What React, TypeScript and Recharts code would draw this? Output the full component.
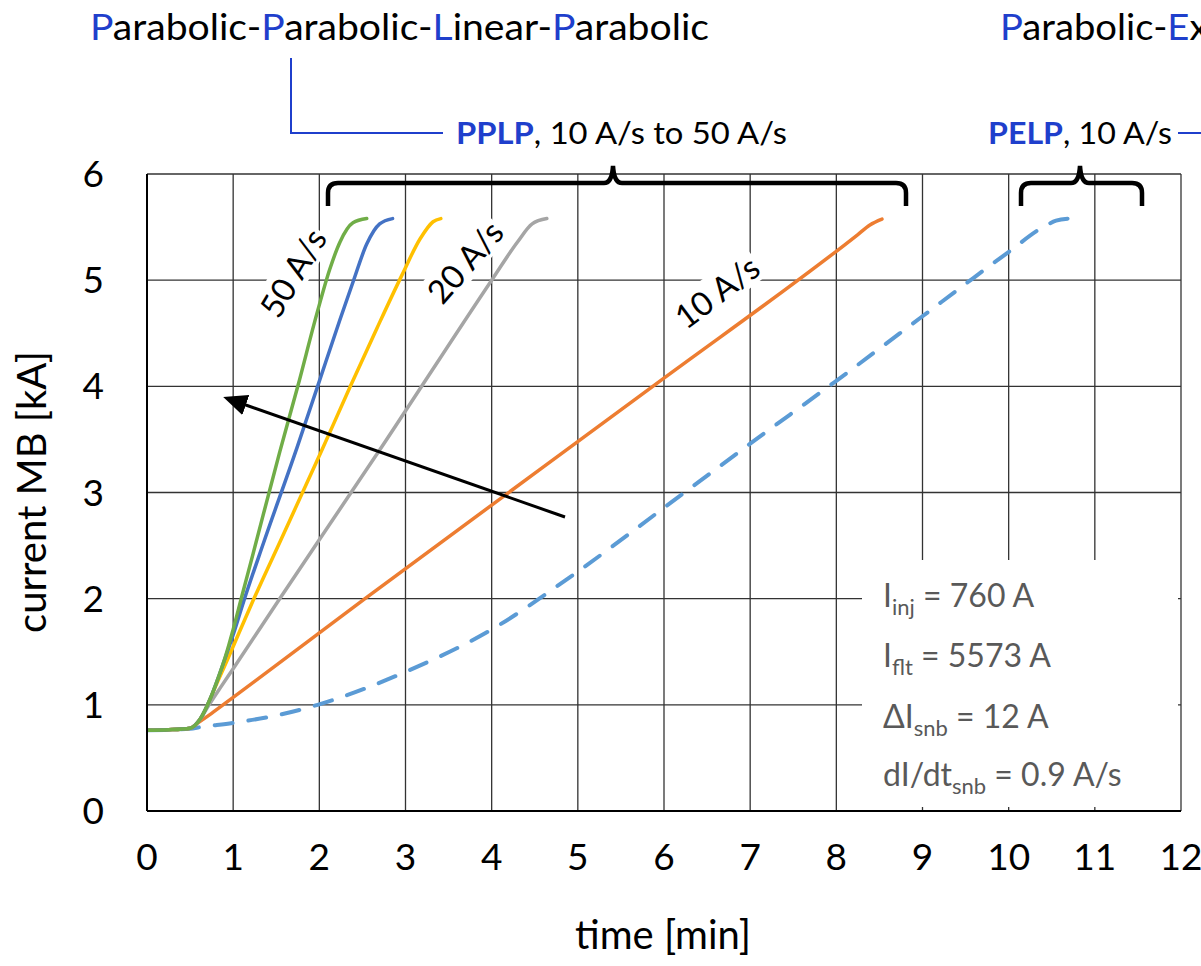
import { LineChart, Line, XAxis, YAxis, CartesianGrid } from 'recharts'

// time [min], current [kA]
const xTicks = [0, 1, 2, 3, 4, 5, 6, 7, 8, 9, 10, 11, 12]
const yTicks = [0, 1, 2, 3, 4, 5, 6]

const pplp50 = [
  { t: 0, I: 0.76 }, { t: 0.25, I: 0.765 }, { t: 0.5, I: 0.78 }, { t: 0.62, I: 0.87 },
  { t: 0.73, I: 1.05 }, { t: 0.82, I: 1.24 }, { t: 0.92, I: 1.48 }, { t: 1.0, I: 1.71 },
  { t: 1.1, I: 2.02 }, { t: 1.23, I: 2.42 }, { t: 1.54, I: 3.38 }, { t: 1.75, I: 4.0 },
  { t: 1.97, I: 4.68 }, { t: 2.12, I: 5.1 }, { t: 2.24, I: 5.36 }, { t: 2.39, I: 5.54 },
  { t: 2.55, I: 5.58 },
]
const pplp40 = [
  { t: 0, I: 0.76 }, { t: 0.25, I: 0.765 }, { t: 0.5, I: 0.78 }, { t: 0.62, I: 0.87 },
  { t: 0.73, I: 1.05 }, { t: 0.82, I: 1.24 }, { t: 0.92, I: 1.47 }, { t: 1.0, I: 1.66 },
  { t: 1.12, I: 1.97 }, { t: 1.35, I: 2.52 }, { t: 1.74, I: 3.42 }, { t: 1.98, I: 4.0 },
  { t: 2.24, I: 4.63 }, { t: 2.39, I: 4.98 }, { t: 2.55, I: 5.34 }, { t: 2.7, I: 5.53 },
  { t: 2.85, I: 5.58 },
]
const pplp30 = [
  { t: 0, I: 0.76 }, { t: 0.25, I: 0.765 }, { t: 0.5, I: 0.78 }, { t: 0.62, I: 0.87 },
  { t: 0.73, I: 1.05 }, { t: 0.82, I: 1.22 }, { t: 0.92, I: 1.4 }, { t: 1.0, I: 1.55 },
  { t: 1.23, I: 1.98 }, { t: 1.54, I: 2.53 }, { t: 2.03, I: 3.4 }, { t: 2.36, I: 4.0 },
  { t: 2.67, I: 4.55 }, { t: 2.96, I: 5.05 }, { t: 3.17, I: 5.39 }, { t: 3.32, I: 5.55 },
  { t: 3.41, I: 5.58 },
]
const pplp20 = [
  { t: 0, I: 0.76 }, { t: 0.25, I: 0.765 }, { t: 0.5, I: 0.78 }, { t: 0.62, I: 0.87 },
  { t: 0.72, I: 1.0 }, { t: 0.85, I: 1.16 }, { t: 1.0, I: 1.34 }, { t: 1.54, I: 2.0 },
  { t: 2.7, I: 3.4 }, { t: 4.0, I: 5.0 }, { t: 4.3, I: 5.36 }, { t: 4.47, I: 5.53 },
  { t: 4.64, I: 5.58 },
]
const pplp10 = [
  { t: 0, I: 0.76 }, { t: 0.25, I: 0.765 }, { t: 0.5, I: 0.78 }, { t: 0.6, I: 0.835 },
  { t: 0.75, I: 0.92 }, { t: 1.0, I: 1.07 }, { t: 2.53, I: 2.0 }, { t: 5.87, I: 4.0 },
  { t: 8.25, I: 5.43 }, { t: 8.39, I: 5.52 }, { t: 8.53, I: 5.575 },
]
const pelp10 = [
  { t: 0, I: 0.76 }, { t: 0.5, I: 0.775 }, { t: 0.62, I: 0.79 }, { t: 1.0, I: 0.83 },
  { t: 1.5, I: 0.9 }, { t: 1.98, I: 1.0 }, { t: 2.97, I: 1.3 }, { t: 3.98, I: 1.7 },
  { t: 4.99, I: 2.25 }, { t: 5.99, I: 2.85 }, { t: 7.0, I: 3.46 }, { t: 7.98, I: 4.04 },
  { t: 9.0, I: 4.66 }, { t: 9.59, I: 5.02 }, { t: 9.99, I: 5.26 }, { t: 10.4, I: 5.5 },
  { t: 10.55, I: 5.56 }, { t: 10.7, I: 5.58 },
]

const font = 'Lato, "Open Sans", sans-serif'
const blue = '#1f3fcc'
const grey = '#595959'

function Overlay() {
  return (
    <svg width={1201} height={966} style={{ position: 'absolute', left: 0, top: 0, pointerEvents: 'none' }} fontFamily={font}>
      <defs>
        <marker id="arrowHead" markerWidth="8" markerHeight="7" refX="1" refY="3.5" orient="auto" markerUnits="strokeWidth">
          <path d="M0,0 L8,3.5 L0,7 z" fill="#000" />
        </marker>
      </defs>

      {/* headings */}
      <text x={90} y={40} fontSize={36} fill="#000" textLength={619} lengthAdjust="spacingAndGlyphs">
        <tspan fill={blue}>P</tspan>arabolic-<tspan fill={blue}>P</tspan>arabolic-<tspan fill={blue}>L</tspan>inear-<tspan fill={blue}>P</tspan>arabolic
      </text>
      <text x={1000} y={40} fontSize={36} fill="#000" textLength={650} lengthAdjust="spacingAndGlyphs">
        <tspan fill={blue}>P</tspan>arabolic-<tspan fill={blue}>E</tspan>xponential-<tspan fill={blue}>L</tspan>inear-<tspan fill={blue}>P</tspan>arabolic
      </text>
      <path d="M291,58 V133 H443" fill="none" stroke={blue} strokeWidth={2} />
      <text x={456} y={144} fontSize={31} fill="#000" textLength={331} lengthAdjust="spacingAndGlyphs">
        <tspan fill={blue} fontWeight="bold">PPLP</tspan>, 10 A/s to 50 A/s
      </text>
      <text x={988} y={144} fontSize={31} fill="#000" textLength={184} lengthAdjust="spacingAndGlyphs">
        <tspan fill={blue} fontWeight="bold">PELP</tspan>, 10 A/s
      </text>
      <path d="M1178,133 H1201" fill="none" stroke={blue} strokeWidth={2} />

      {/* braces */}
      <path d="M328,206 V193 Q328,183 338,183 H604 Q612,183 613,166 Q614,183 622,183 H896 Q906,183 906,193 V206"
        fill="none" stroke="#000" strokeWidth={4.5} />
      <path d="M1021,206 V193 Q1021,183 1031,183 H1071 Q1079,183 1080,166 Q1081,183 1089,183 H1132 Q1142,183 1142,193 V206"
        fill="none" stroke="#000" strokeWidth={4.5} />

      {/* rate labels */}
      <g transform="translate(293,273) rotate(-59)">
        <rect x={-50} y={-19} width={100} height={36} fill="#fff" />
        <text x={0} y={12} fontSize={33} textAnchor="middle" fill="#000">50 A/s</text>
      </g>
      <g transform="translate(465,262) rotate(-49)">
        <rect x={-50} y={-19} width={100} height={36} fill="#fff" />
        <text x={0} y={12} fontSize={33} textAnchor="middle" fill="#000">20 A/s</text>
      </g>
      <g transform="translate(717,292) rotate(-37)">
        <rect x={-50} y={-19} width={100} height={36} fill="#fff" />
        <text x={0} y={12} fontSize={33} textAnchor="middle" fill="#000">10 A/s</text>
      </g>

      {/* arrow */}
      <line x1={565} y1={517} x2={243} y2={404} stroke="#000" strokeWidth={3} markerEnd="url(#arrowHead)" />

      {/* parameter box */}
      <rect x={862} y={560} width={316} height={247} fill="#fff" />
      <g fontSize={32} fill={grey}>
        <text x={883} y={607}>I<tspan fontSize={22} dy={8}>inj</tspan><tspan dy={-8}> = 760 A</tspan></text>
        <text x={883} y={667}>I<tspan fontSize={22} dy={8}>flt</tspan><tspan dy={-8}> = 5573 A</tspan></text>
        <text x={883} y={728}>ΔI<tspan fontSize={22} dy={8}>snb</tspan><tspan dy={-8}> = 12 A</tspan></text>
        <text x={883} y={786}>dI/dt<tspan fontSize={22} dy={8}>snb</tspan><tspan dy={-8}> = 0.9 A/s</tspan></text>
      </g>

      {/* axis titles */}
      <text x={663} y={949} fontSize={40} textAnchor="middle" fill="#000">time [min]</text>
      <text transform="translate(46,492) rotate(-90)" fontSize={40} textAnchor="middle" fill="#000">current MB [kA]</text>
    </svg>
  )
}

export default function App() {
  const tick = { fontSize: 37, fill: '#000', fontFamily: font }
  return (
    <div style={{ position: 'absolute', left: 0, top: 0, width: 1201, height: 966, background: '#fff' }}>
      <LineChart width={1201} height={966} margin={{ top: 174, right: 20, bottom: 95, left: 87 }}>
        <CartesianGrid stroke="#333" strokeWidth={1.3} />
        <XAxis type="number" dataKey="t" domain={[0, 12]} ticks={xTicks} interval={0}
          tick={tick} tickLine={false} tickSize={0} tickMargin={33} height={60}
          axisLine={{ stroke: '#000', strokeWidth: 2 }} allowDataOverflow />
        <YAxis type="number" dataKey="I" domain={[0, 6]} ticks={yTicks} interval={0}
          tick={tick} tickLine={false} tickSize={0} tickMargin={43} width={60}
          axisLine={{ stroke: '#000', strokeWidth: 2 }} allowDataOverflow />
        <Line data={pelp10} dataKey="I" type="monotone" stroke="#5b9bd5" strokeWidth={4}
          strokeDasharray="18 16" strokeLinecap="round" dot={false} isAnimationActive={false} />
        <Line data={pplp10} dataKey="I" type="monotone" stroke="#ed7d31" strokeWidth={3.5}
          strokeLinecap="round" dot={false} isAnimationActive={false} />
        <Line data={pplp20} dataKey="I" type="monotone" stroke="#a5a5a5" strokeWidth={3.5}
          strokeLinecap="round" dot={false} isAnimationActive={false} />
        <Line data={pplp30} dataKey="I" type="monotone" stroke="#ffc000" strokeWidth={3.5}
          strokeLinecap="round" dot={false} isAnimationActive={false} />
        <Line data={pplp40} dataKey="I" type="monotone" stroke="#4472c4" strokeWidth={3.5}
          strokeLinecap="round" dot={false} isAnimationActive={false} />
        <Line data={pplp50} dataKey="I" type="monotone" stroke="#70ad47" strokeWidth={3.5}
          strokeLinecap="round" dot={false} isAnimationActive={false} />
      </LineChart>
      <Overlay />
    </div>
  )
}
